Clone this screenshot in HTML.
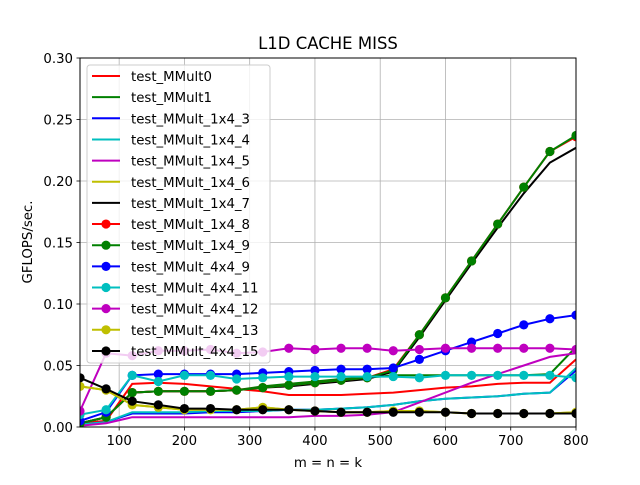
<!DOCTYPE html>
<html><head><meta charset="utf-8"><style>
html,body{margin:0;padding:0;background:#fff;}
svg text{font-family:"DejaVu Sans","Liberation Sans",sans-serif;}
</style></head><body>
<svg id="chart" width="640" height="480" viewBox="0 0 640 480" xmlns="http://www.w3.org/2000/svg">
<rect width="640" height="480" fill="#fff"/>
<g id="grid"></g>
<g id="series"></g>
<rect x="80" y="58" width="496" height="369" fill="none" stroke="#000" stroke-width="1"/>
<g id="ticks"></g>
<text x="328" y="49" font-size="16.5" text-anchor="middle">L1D CACHE MISS</text>
<text x="328" y="467" font-size="13.3" text-anchor="middle">m = n = k</text>
<text x="32" y="242" font-size="13.3" text-anchor="middle" transform="rotate(-90 32 242)">GFLOPS/sec.</text>
<g id="legend"></g>
</svg>
<script>
const xs=[40,80,120,160,200,240,280,320,360,400,440,480,520,560,600,640,680,720,760,800];
const xTicks=[100,200,300,400,500,600,700,800];
const yTicks=[0,0.05,0.10,0.15,0.20,0.25,0.30];
const yTickLabels=["0.00","0.05","0.10","0.15","0.20","0.25","0.30"];
const names=["test_MMult0","test_MMult1","test_MMult_1x4_3","test_MMult_1x4_4","test_MMult_1x4_5","test_MMult_1x4_6","test_MMult_1x4_7","test_MMult_1x4_8","test_MMult_1x4_9","test_MMult_4x4_9","test_MMult_4x4_11","test_MMult_4x4_12","test_MMult_4x4_13","test_MMult_4x4_15"];
const colors=["#ff0000","#008000","#0000ff","#00bfbf","#bf00bf","#bfbf00","#000000","#ff0000","#008000","#0000ff","#00bfbf","#bf00bf","#bfbf00","#000000"];
const markers=[false,false,false,false,false,false,false,true,true,true,true,true,true,true];
const sMMult0=[0.003,0.005,0.035,0.036,0.035,0.033,0.031,0.029,0.026,0.026,0.026,0.027,0.028,0.030,0.032,0.033,0.035,0.036,0.036,0.055];
const sMMult1=[0.003,0.008,0.028,0.029,0.029,0.029,0.030,0.033,0.035,0.037,0.039,0.040,0.042,0.042,0.042,0.042,0.042,0.042,0.043,0.065];
const s1x4_3=[0.002,0.004,0.011,0.011,0.011,0.012,0.012,0.013,0.014,0.014,0.015,0.016,0.018,0.021,0.023,0.024,0.025,0.027,0.028,0.046];
const s1x4_4=[0.002,0.004,0.012,0.012,0.012,0.013,0.013,0.013,0.014,0.014,0.015,0.016,0.018,0.021,0.023,0.024,0.025,0.027,0.028,0.048];
const s1x4_5=[0.001,0.003,0.008,0.008,0.008,0.008,0.008,0.008,0.008,0.009,0.009,0.010,0.012,0.020,0.028,0.036,0.043,0.050,0.057,0.060];
const s1x4_6=[0.033,0.030,0.018,0.016,0.014,0.014,0.014,0.016,0.014,0.013,0.012,0.012,0.013,0.013,0.012,0.011,0.011,0.011,0.011,0.012];
const s1x4_7=[0.003,0.008,0.028,0.029,0.029,0.029,0.030,0.032,0.033,0.035,0.037,0.039,0.045,0.073,0.103,0.133,0.162,0.190,0.215,0.227];
const s1x4_8=[0.003,0.008,0.028,0.029,0.029,0.029,0.030,0.032,0.034,0.036,0.038,0.040,0.047,0.075,0.105,0.135,0.165,0.195,0.224,0.236];
const s1x4_9=[0.003,0.008,0.028,0.029,0.029,0.029,0.030,0.032,0.034,0.036,0.038,0.040,0.046,0.075,0.105,0.135,0.165,0.195,0.224,0.237];
const s4x4_9=[0.005,0.012,0.042,0.043,0.043,0.043,0.043,0.044,0.045,0.046,0.047,0.047,0.048,0.055,0.062,0.069,0.076,0.083,0.088,0.091];
const s4x4_11=[0.010,0.014,0.042,0.037,0.042,0.042,0.039,0.040,0.041,0.041,0.041,0.041,0.041,0.040,0.042,0.042,0.042,0.042,0.042,0.040];
const s4x4_12=[0.013,0.060,0.058,0.062,0.062,0.063,0.060,0.061,0.064,0.063,0.064,0.064,0.062,0.063,0.064,0.064,0.064,0.064,0.064,0.063];
const s4x4_13=[0.033,0.030,0.018,0.016,0.014,0.014,0.014,0.016,0.014,0.013,0.012,0.012,0.013,0.013,0.012,0.011,0.011,0.011,0.011,0.012];
const s4x4_15=[0.040,0.031,0.021,0.018,0.015,0.015,0.014,0.014,0.014,0.013,0.012,0.012,0.012,0.012,0.012,0.011,0.011,0.011,0.011,0.011];
const seriesData=[sMMult0,sMMult1,s1x4_3,s1x4_4,s1x4_5,s1x4_6,s1x4_7,s1x4_8,s1x4_9,s4x4_9,s4x4_11,s4x4_12,s4x4_13,s4x4_15];

const NS="http://www.w3.org/2000/svg";
const L=80,R=576,T=58,B=427,XMIN=40,XMAX=800,YMIN=0,YMAX=0.30;
function sx(v){return L+(v-XMIN)/(XMAX-XMIN)*(R-L);}
function sy(v){return B-(v-YMIN)/(YMAX-YMIN)*(B-T);}
function mk(tag,attrs,parent){const e=document.createElementNS(NS,tag);for(const k in attrs)e.setAttribute(k,attrs[k]);parent.appendChild(e);return e;}

const grid=document.getElementById('grid'),ticks=document.getElementById('ticks');
xTicks.forEach((t,i)=>{
  const g=mk('line',{x1:sx(t),x2:sx(t),y1:T,y2:B,stroke:'#b0b0b0','stroke-width':0.8},grid);
  
  
  const tk=mk('line',{x1:sx(t),x2:sx(t),y1:B,y2:B+3.5,stroke:'#000','stroke-width':0.8},ticks);
  
  
  const tx=mk('text',{x:sx(t),y:B+18,'font-size':13.3,'text-anchor':'middle'},ticks);
  tx.textContent=String(t);
  
  
});
yTicks.forEach((t,i)=>{
  const g=mk('line',{x1:L,x2:R,y1:sy(t),y2:sy(t),stroke:'#b0b0b0','stroke-width':0.8},grid);
  
  
  const tk=mk('line',{x1:L-3.5,x2:L,y1:sy(t),y2:sy(t),stroke:'#000','stroke-width':0.8},ticks);
  
  
  const tx=mk('text',{x:L-7,y:sy(t)+5,'font-size':13.3,'text-anchor':'end'},ticks);
  tx.textContent=yTickLabels[i];
  
  
});

const sg=document.getElementById('series');
const clip=mk('clipPath',{id:'pc'},sg);mk('rect',{x:L,y:T,width:R-L,height:B-T},clip);
seriesData.forEach((d,i)=>{
  const g=mk('g',{'clip-path':'url(#pc)'},sg);
  
  
  const pts=d.map((v,j)=>sx(xs[j]).toFixed(1)+','+sy(v).toFixed(1)).join(' ');
  const pl=mk('polyline',{points:pts,fill:'none',stroke:colors[i],'stroke-width':2}, g);
  
  
  if(markers[i]) d.forEach((v,j)=>{
    const c=mk('circle',{cx:sx(xs[j]),cy:sy(v),r:4.6,fill:colors[i]},g);
    
    
  });
});

const lg=document.getElementById('legend');
const box=mk('rect',{x:87,y:65,width:183,height:298,rx:3,fill:'#fff','fill-opacity':0.8,stroke:'#cccccc','stroke-width':1},lg);


names.forEach((n,i)=>{
  const y=76+i*21.15;
  const e=mk('g',{},lg);
  
  
  mk('line',{x1:92,x2:120,y1:y,y2:y,stroke:colors[i],'stroke-width':2},e);
  if(markers[i]) mk('circle',{cx:106,cy:y,r:4.6,fill:colors[i]},e);
  const t=mk('text',{x:131,y:y+5,'font-size':13.3},e);
  t.textContent=n;
});
</script>
</body></html>
